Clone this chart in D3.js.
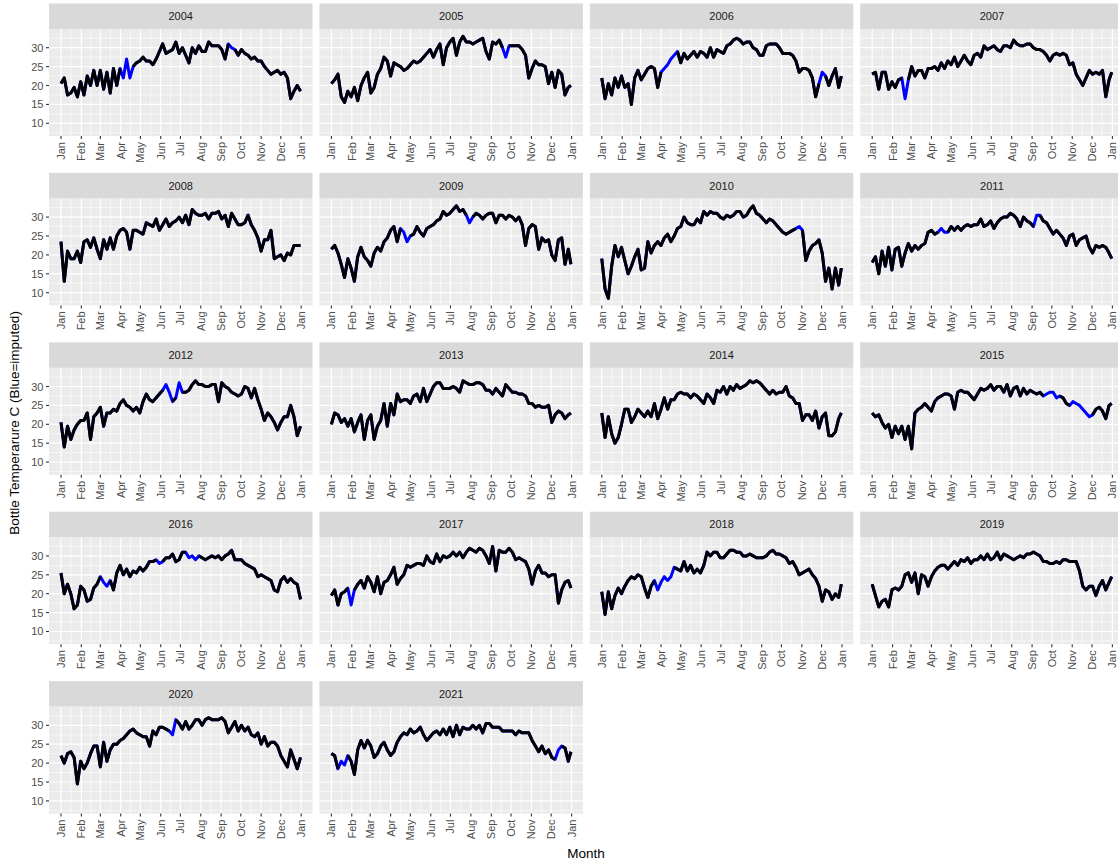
<!DOCTYPE html>
<html>
<head>
<meta charset="utf-8">
<script src="https://cdn.jsdelivr.net/npm/d3@7"></script>
<style>
  body { margin: 0; background: #fff; overflow: hidden; }
  text { font-family: "Liberation Sans", Arial, sans-serif; }
</style>
</head>
<body>
<svg id="chart" width="1118" height="865"></svg>
<script>
// Daily bottle temperature (deg C), sampled every 5 days from Jan 1; last value is Dec 31.
const t2004 = [20.5,22,17.5,18,19.5,17,21,17.5,22.5,20, 24,20,24,19,23.5,18,24.5,20,24.5,22, 27,22,25,26,26.5,27.5,26.5,26.5,25.5,27, 29,31,28.5,29,29.5,31.5,28.5,30,28,26, 30,28.5,30.5,29,29,31.5,30.5,30.5,30.5,29.5, 27,31,30,29.5,28,29.5,28.5,28,27,27.5, 26.5,26.5,25,24,23,23.5,24,23,23.5,22, 16.5,18.5,20,18.5];
const t2005 = [20.5,21.5,23,17,15.5,18.5,17,19.5,16,20, 22,23.5,18,19.5,23,24.5,27.5,26.5,22.5,26, 25.5,25,24,24.5,25.5,26.5,26,26.5,27.5,28.5, 29.5,27.5,29.5,31,25.5,30,31.5,32.5,28,31.5, 33,31.5,31.5,31,31.5,32,32.5,29,27,31.5, 31,32,30,27.5,30.5,30.5,30.5,30.5,29.5,28, 22,24.5,26.5,25.5,25.5,25,20.5,23.5,19.5,24, 23,17.5,19.5,20];
const t2006 = [22,16.5,20.5,17.5,22,19.5,22.5,19.5,20.5,15, 22,24,21.5,23,24.5,25,24.5,19.5,23.5,24.5, 25.5,27,28,29,26,28.5,27,28,29,27.5, 29,28.5,27.5,30,27.5,29.5,29,28.5,30.5,31, 32,32.5,32,31,31.5,31.5,30,29.5,28,28, 30.5,31,31,31,30,28.5,28.5,28.5,28,26.5, 23.5,24.5,24.5,24,22,17,20.5,23.5,22.5,20, 22.5,24.5,19.5,22.5];
const t2007 = [23,23.5,19,23.5,23.5,19,21,19.5,21.5,22, 16.5,21.5,25,22.5,24,24,22,24.5,24.5,25, 24,26,24.5,26.5,25.5,27.5,25,26.5,28,26.5, 25.5,28,28.5,27.5,30.5,29.5,30,30.5,29.5,29, 30.5,30.5,30,32,31,30.5,30.5,31,31,30, 29.5,29.5,29,28,26.5,28,28.5,28,28.5,28, 25.5,26,23,21.5,20,22,24,23,23.5,23, 24,17,21.5,23.5];
const t2008 = [23.5,13,21,19,19,21,18,23.5,24,22, 24.5,21.5,19,24,21.5,24.5,21.5,25,26.5,27, 26,21.5,26.5,26.5,26,25.5,28.5,28,27.5,29.5, 26.5,28,29.5,27.5,28.5,29,30,28.5,30.5,28, 32,31,30.5,30.5,31,29.5,31,31,31.5,29.5, 30.5,27.5,31,29.5,28,28,28.5,30.5,28,26.5, 24.5,21,24,24,26.5,19,19.5,20,18.5,20.5, 20,22.5,22.5,22.5];
const t2009 = [21.5,22.5,20.5,17.5,14,19,16.5,13,19.5,22, 19.5,18.5,17,20.5,22,21,23.5,24.5,26.5,27.5, 23.5,27,26,23.5,25,25.5,27.5,26,25,27, 27.5,28,29,29.5,31.5,30.5,31,32,33,31.5, 32,30.5,28.5,30,31,30.5,29.5,30.5,31,31, 28.5,30.5,30.5,29.5,30.5,30,29,30,28,22.5, 27,28,27.5,21.5,24.5,23.5,24,20,18.5,24, 24.5,17.5,21.5,17.5];
const t2010 = [19,11,8.5,17,22.5,19.5,22,18.5,15,17, 19.5,21.5,16,16.5,23.5,20.5,22.5,23.5,22.5,24.5, 25.5,23.5,25,27,27.5,30,28.5,28,28,29.5, 28.5,31.5,30.5,31.5,31,31,30,29.5,30.5,30, 30.5,31.5,31.5,30,30.5,32,33,31,30.5,29.5, 28.5,29.5,29,28,27,26,25.5,26,26.5,27, 27.5,26.5,18.5,21,22.5,23,24,20.5,13,16.5, 11,16.5,12,16.5];
const t2011 = [18,19.5,15,21,17,22,16,21.5,22,17, 20.5,23,21,22.5,21.5,22.5,23,26,26.5,25.5, 26,27,26,26,27.5,26.5,27.5,26.5,27.5,28, 27.5,28,28,29.5,27.5,28,29,27,28.5,29.5, 30,30,31,30.5,29.5,27.5,30,29,28.5,27.5, 30.5,30.5,29,28.5,27,25.5,26.5,25.5,24.5,22.5, 25,25.5,22.5,24,24.5,25,22,20.5,22.5,22, 22.5,22,20.5,19];
const t2012 = [20.5,14,19.5,16,18.5,20,21,21,23,16, 22,23,24.5,19.5,23,23,24,23.5,25.5,26.5, 25,24.5,23.5,24.5,23,26,28,26.5,26,27, 28,29,30.5,28.5,26,27,31,28.5,28.5,29, 30.5,31.5,30.5,30.5,30,30,30.5,30.5,26,31, 30,29.5,28.5,28,27.5,28,30,29.5,27,29.5, 26.5,24,21,23,22,20.5,18.5,20.5,22,22, 25,22,17,19.5];
const t2013 = [20,23,22.5,20.5,21.5,19.5,21.5,18,20.5,22.5, 16,21,22.5,16,19.5,21,25.5,19.5,25.5,22.5, 28,26,26.5,26.5,25.5,27.5,28,26,29.5,26, 28,30,31,31,29.5,29.5,29.5,30,29.5,28.5, 31.5,31,30.5,30.5,31,31,30.5,29,29,28, 29.5,28.5,27.5,30.5,29.5,28.5,28.5,28,28,27.5, 25.5,25.5,24.5,25,24.5,24.5,25,20.5,22.5,23.5, 23,21.5,22.5,23];
const t2014 = [23,16.5,22,17.5,15,16.5,20,24,24,20.5, 22,24,23,22,23.5,22,25.5,21.5,24,27, 24,26.5,26.5,28,28.5,28,28,27,28,27.5, 26.5,25.5,28,27,25.5,29,28.5,30,28,30, 29,30.5,29.5,30,30.5,31.5,31,31.5,31,30, 29,28,29,28,28.5,28.5,30,27.5,27,25.5, 25.5,21,22.5,22.5,21,23.5,19,22,23,17, 17,18,21.5,23];
const t2015 = [23,22,22.5,20.5,19,20,16.5,19.5,17.5,19.5, 16,19.5,13.5,23,24,24.5,25.5,24.5,23.5,26, 27,27.5,28,28,27.5,24,28.5,29,28.5,28.5, 27.5,26.5,28,29.5,29,29.5,30.5,29,30,30, 28.5,30.5,27.5,29.5,30,27.5,29.5,28,29,28.5, 28,28.5,27.5,28,28.5,28.5,27,27.5,27,25.5, 25,26,25.5,25,24,23,22,22.5,24,24.5, 23.5,21.5,25,25.5];
const t2016 = [25.5,20,22.5,20,16,17,22,21,18,18.5, 21.5,22.5,24.5,23,22,23.5,21,25.5,27.5,25, 26.5,24.5,26,25.5,27,26,27,28.5,28.5,29, 28,28.5,29.5,29.5,30.5,28.5,29,31,31,29.5, 30,29,30,29.5,29,29.5,30,29.5,30,29, 30,30.5,31.5,29,29,29,28,27.5,27,26.5, 24.5,25,24.5,24,23.5,21,20.5,23.5,24.5,23, 24,23,22.5,18.5];
const t2017 = [19.5,21,17,20,20.5,21.5,17,21,22.5,23.5, 21.5,24.5,23,20.5,24.5,20,23,23.5,25,27, 22.5,24,25,27.5,27,27.5,28,28,27.5,30, 28.5,28,30.5,28.5,30,29.5,30,31,30,31, 29.5,31,32,31.5,31,32,31.5,30,28,32.5, 26,31.5,31,31,32,31,29,29.5,29,28.5, 26.5,22.5,26,27.5,25.5,25.5,24.5,25,25,17.5, 21,23,23.5,21.5];
const t2018 = [20.5,14.5,20.5,16,19.5,21.5,20,22,23.5,24.5, 24,25,24.5,21.5,19,22,23.5,21,23,24.5, 23.5,24.5,27,26.5,26,28.5,26,27.5,25.5,26.5, 25.5,27.5,31,30,31,31,29.5,29.5,30.5,31.5, 31.5,31,31,30,30,30.5,30,29.5,29.5,29.5, 30,31,31.5,30.5,30.5,30,29.5,28,28.5,27, 25,25.5,26,26.5,25,24,22,18,21,20.5, 18.5,20,19,22.5];
const t2019 = [22.5,19.5,16.5,18,18.5,16.5,21,21.5,21,22, 25,25.5,23,25.5,20,25,24.5,22,24.5,26, 27,27.5,27.5,26.5,27.5,28.5,27.5,29,28.5,29.5, 28,29,29,30,29,30.5,29,29.5,31,29, 30.5,30,29.5,29,29.5,30,29.5,30.5,30.5,31, 30.5,30,28.5,28.5,28,28,28.5,28,29,29, 28.5,28.5,28.5,26,22,21,22,22,19.5,22, 23.5,21,23,24.5];
const t2020 = [22,20,22.5,23,21.5,14.5,20.5,18.5,20,22.5, 24.5,24.5,19,25.5,20.5,23.5,25,25,26,26.5, 27.5,28.5,29,28,27.5,27,27,24.5,28.5,27.5, 29.5,29.5,29,28.5,27.5,31.5,30.5,29,31,29, 30,31.5,31.5,30,31.5,32,31.5,31.5,31.5,32, 31,28,29.5,31,28.5,30,28.5,29.5,27.5,27, 28,25,27,24.5,25.5,25.5,24.5,22,20.5,19, 23.5,21,18.5,21.5];
const t2021 = [22.5,22,18.5,20.5,19.5,22,20.5,17,23.5,26, 24,26,24.5,21.5,22.5,24.5,25.5,23.5,22,23, 25.5,27,28,27.5,29,28,28.5,29.5,27.5,26, 27,28,28.5,27.5,29,27.5,29.5,27,30,27.5, 29.5,29,29,30,29,30,28,30.5,30.5,29.5, 29.5,29.5,28.5,28.5,28.5,28.5,27.5,28.5,28,28, 28,26,24.5,23,24.5,22.5,23.5,21.5,21,23.5, 24.5,24,20.5,23];

// Day-of-year ranges (from, to) whose readings were imputed
const imputedDays = {
  2004: [[93,108],[258,262]], 2005: [[262,266]], 2006: [[93,112],[331,338]],
  2007: [[47,50]], 2009: [[106,118],[208,212]], 2010: [[298,302]],
  2011: [[104,114],[248,254]], 2012: [[156,168],[178,183]],
  2015: [[263,282],[303,330]], 2016: [[62,72],[150,153],[193,205]],
  2017: [[27,31]], 2018: [[82,106]], 2020: [[168,171]], 2021: [[13,21],[344,348]]
};

const years = [2004,2005,2006,2007,2008,2009,2010,2011,2012,2013,2014,2015,2016,2017,2018,2019,2020,2021];
const temps = [t2004,t2005,t2006,t2007,t2008,t2009,t2010,t2011,t2012,t2013,t2014,t2015,t2016,t2017,t2018,t2019,t2020,t2021];
const monthLabels = ["Jan","Feb","Mar","Apr","May","Jun","Jul","Aug","Sep","Oct","Nov","Dec","Jan"];
const yTicks = [10,15,20,25,30];
const yMinor = [7.5,12.5,17.5,22.5,27.5,32.5];

const DAY = 864e5;
const svg = d3.select("#chart");

// facet layout
const nCol = 4;
const colLeft = 49, colPitch = 270.4, panelW = 263.5;
const rowTop = 3.5, rowPitch = 169.4, stripH = 25.5, panelH = 107;

const y = d3.scaleLinear().domain([6.64, 34.95]).range([panelH, 0]);

years.forEach((yr, k) => {
  const col = k % nCol, row = Math.floor(k / nCol);
  const left = colLeft + col * colPitch;
  const sTop = rowTop + row * rowPitch;
  const pTop = sTop + stripH;

  const start = Date.UTC(yr, 0, 1), end = Date.UTC(yr, 11, 31);
  const nDays = Math.round((Date.UTC(yr + 1, 0, 1) - start) / DAY);
  const pad = (end - start) * 0.05;
  const x = d3.scaleUtc().domain([new Date(start - pad), new Date(end + pad)]).range([0, panelW]);

  const majors = d3.range(13).map(m => new Date(Date.UTC(yr, m, 1)));
  const minors = d3.range(12).map(m => new Date((+majors[m] + +majors[m + 1]) / 2));

  const ranges = imputedDays[yr] || [];
  const rows = temps[k].map((v, i) => {
    const day = Math.min(i * 5, nDays - 1);
    return { date: new Date(start + day * DAY), v, imp: ranges.some(r => day >= r[0] && day <= r[1]) };
  });

  const g = svg.append("g").attr("transform", `translate(${left},${pTop})`);
  g.append("rect").attr("width", panelW).attr("height", panelH).attr("fill", "#EBEBEB");

  // minor grid
  g.selectAll(".hmin").data(yMinor).join("line")
    .attr("x1", 0).attr("x2", panelW).attr("y1", d => y(d)).attr("y2", d => y(d))
    .attr("stroke", "#fff").attr("stroke-width", 0.6);
  g.selectAll(".vmin").data(minors).join("line")
    .attr("y1", 0).attr("y2", panelH).attr("x1", d => x(d)).attr("x2", d => x(d))
    .attr("stroke", "#fff").attr("stroke-width", 0.6);
  // major grid
  g.selectAll(".hmaj").data(yTicks).join("line")
    .attr("x1", 0).attr("x2", panelW).attr("y1", d => y(d)).attr("y2", d => y(d))
    .attr("stroke", "#fff").attr("stroke-width", 1.2);
  g.selectAll(".vmaj").data(majors).join("line")
    .attr("y1", 0).attr("y2", panelH).attr("x1", d => x(d)).attr("x2", d => x(d))
    .attr("stroke", "#fff").attr("stroke-width", 1.2);

  const clipId = "clip" + yr;
  g.append("clipPath").attr("id", clipId).append("rect").attr("width", panelW).attr("height", panelH);
  const lines = g.append("g").attr("clip-path", `url(#${clipId})`);

  // imputed stretches show through the gaps of the observed line
  lines.append("path").datum(rows)
    .attr("fill", "none").attr("stroke", "#0000FF").attr("stroke-width", 3)
    .attr("stroke-linejoin", "round")
    .attr("d", d3.line().x(d => x(d.date)).y(d => y(d.v)));
  lines.append("path").datum(rows)
    .attr("fill", "none").attr("stroke", "#000").attr("stroke-width", 3)
    .attr("stroke-linejoin", "round")
    .attr("d", d3.line().defined(d => !d.imp).x(d => x(d.date)).y(d => y(d.v)));

  // strip
  svg.append("rect").attr("x", left).attr("y", sTop).attr("width", panelW).attr("height", stripH)
    .attr("fill", "#D9D9D9");
  svg.append("text").attr("x", left + panelW / 2).attr("y", sTop + stripH / 2)
    .attr("text-anchor", "middle").attr("dominant-baseline", "central")
    .attr("font-size", 11).attr("fill", "#1A1A1A").text(yr);

  // x axis
  const xa = svg.append("g").attr("transform", `translate(${left},${pTop + panelH})`);
  xa.selectAll("line").data(majors).join("line")
    .attr("x1", d => x(d)).attr("x2", d => x(d)).attr("y1", 0).attr("y2", 3)
    .attr("stroke", "#333").attr("stroke-width", 1.1);
  xa.selectAll("text").data(majors).join("text")
    .attr("transform", d => `translate(${x(d)},6) rotate(-90)`)
    .attr("text-anchor", "end").attr("dominant-baseline", "central")
    .attr("font-size", 11).attr("fill", "#4D4D4D")
    .text((d, i) => monthLabels[i]);

  // y axis on first column
  if (col === 0) {
    const ya = svg.append("g").attr("transform", `translate(${left},${pTop})`);
    ya.selectAll("line").data(yTicks).join("line")
      .attr("x1", -3).attr("x2", 0).attr("y1", d => y(d)).attr("y2", d => y(d))
      .attr("stroke", "#333").attr("stroke-width", 1.1);
    ya.selectAll("text").data(yTicks).join("text")
      .attr("x", -5.5).attr("y", d => y(d))
      .attr("text-anchor", "end").attr("dominant-baseline", "central")
      .attr("font-size", 11).attr("fill", "#4D4D4D").text(d => d);
  }
});

// axis titles
svg.append("text").attr("x", 586).attr("y", 858).attr("text-anchor", "middle")
  .attr("font-size", 13.5).attr("fill", "#000").text("Month");
svg.append("text").attr("transform", "translate(19,423) rotate(-90)")
  .attr("text-anchor", "middle").attr("font-size", 13.5).attr("fill", "#000")
  .text("Bottle Temperarure C (Blue=imputed)");
</script>
</body>
</html>
